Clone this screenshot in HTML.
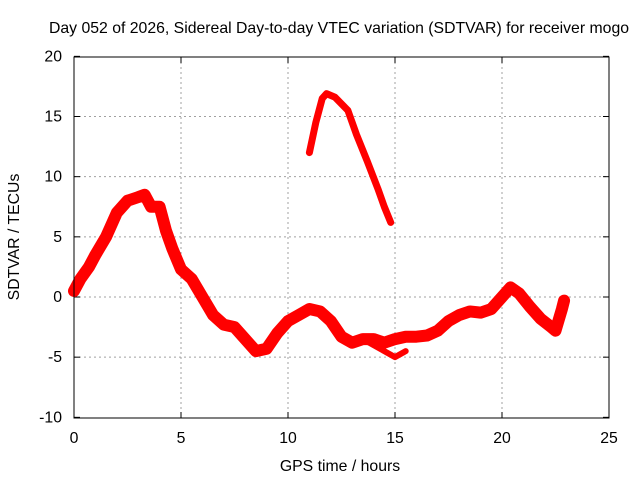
<!DOCTYPE html>
<html><head><meta charset="utf-8"><style>
body{margin:0;background:#fff}
svg{display:block;font-family:"Liberation Sans",sans-serif;font-size:15.8px}
</style></head><body>
<svg id="c" width="640" height="480">
<text x="339" y="33" text-anchor="middle">Day 052 of 2026, Sidereal Day-to-day VTEC variation (SDTVAR) for receiver mogo</text>
<text x="340" y="471" text-anchor="middle">GPS time / hours</text>
<text transform="translate(19,237) rotate(-90)" text-anchor="middle">SDTVAR / TECUs</text>
<g id="grid"></g><g id="series"></g>
<rect x="74" y="57" width="535" height="361" fill="none" stroke="#000" stroke-width="1"/>
</svg>
<script>
const xTicks=[0,5,10,15,20,25];
const yTicks=[-10,-5,0,5,10,15,20];
const mainX=[0,0.3,0.7,1,1.5,2,2.5,3,3.3,3.6,4,4.3,4.6,5,5.5,6,6.5,7,7.5,8,8.5,9,9.5,10,10.5,11,11.5,12,12.5,13,13.5,14,14.5,15,15.5,16,16.5,17,17.5,18,18.5,19,19.5,20,20.4,20.8,21.3,21.8,22.3,22.5,22.8,22.9];
const mainY=[0.5,1.5,2.5,3.5,5,7,8,8.3,8.5,7.5,7.5,5.5,4,2.3,1.5,0,-1.5,-2.3,-2.5,-3.5,-4.5,-4.3,-3,-2,-1.5,-1,-1.2,-2,-3.3,-3.8,-3.5,-3.5,-3.8,-3.5,-3.3,-3.3,-3.2,-2.8,-2,-1.5,-1.2,-1.3,-1,0,0.8,0.3,-0.8,-1.8,-2.5,-2.8,-1,-0.3];
const upperX=[11,11.3,11.6,11.8,12.2,12.8,13.2,13.7,14.2,14.5,14.8];
const upperY=[12,14.5,16.5,16.9,16.6,15.5,13.5,11.3,9,7.5,6.2];
const branchX=[13.5,14.5,15,15.5];
const branchY=[-3.5,-4.5,-5,-4.5];
const xs=h=>74+h*21.4, ys=v=>297-v*12.033;
const NS="http://www.w3.org/2000/svg";
const grid=document.getElementById('grid'), ser=document.getElementById('series');
function mk(t,a,p){const e=document.createElementNS(NS,t);for(const k in a)e.setAttribute(k,a[k]);p.appendChild(e);return e;}
xTicks.forEach(t=>{
 if(t>0&&t<25){const l=mk('line',{x1:xs(t),x2:xs(t),y1:57,y2:418,stroke:'#a0a0a0','stroke-dasharray':'2,3'},grid);
 
 }
 const tx=mk('text',{x:xs(t),y:443,'text-anchor':'middle'},grid);tx.textContent=t;
 
 
 mk('line',{x1:xs(t),x2:xs(t),y1:418,y2:412,stroke:'#000'},grid);
 mk('line',{x1:xs(t),x2:xs(t),y1:57,y2:63,stroke:'#000'},grid);
});
yTicks.forEach(t=>{
 if(t>-10&&t<20){const l=mk('line',{x1:74,x2:609,y1:ys(t),y2:ys(t),stroke:'#a0a0a0','stroke-dasharray':'2,3'},grid);
 
 }
 const tx=mk('text',{x:62,y:ys(t)+5,'text-anchor':'end'},grid);tx.textContent=t;
 
 
 mk('line',{x1:74,x2:80,y1:ys(t),y2:ys(t),stroke:'#000'},grid);
 mk('line',{x1:603,x2:609,y1:ys(t),y2:ys(t),stroke:'#000'},grid);
});
function line(X,Y,w,name){
 const p=mk('polyline',{points:X.map((x,i)=>xs(x)+','+ys(Y[i])).join(' '),fill:'none',stroke:'#f00','stroke-width':w,'stroke-linejoin':'round','stroke-linecap':'round'},ser);
 
 
}
line(mainX,mainY,12,'sdtvar-main-series');
line(upperX,upperY,7,'sdtvar-upper-series');
line(branchX,branchY,6,'sdtvar-branch-series');
</script>
</body></html>
